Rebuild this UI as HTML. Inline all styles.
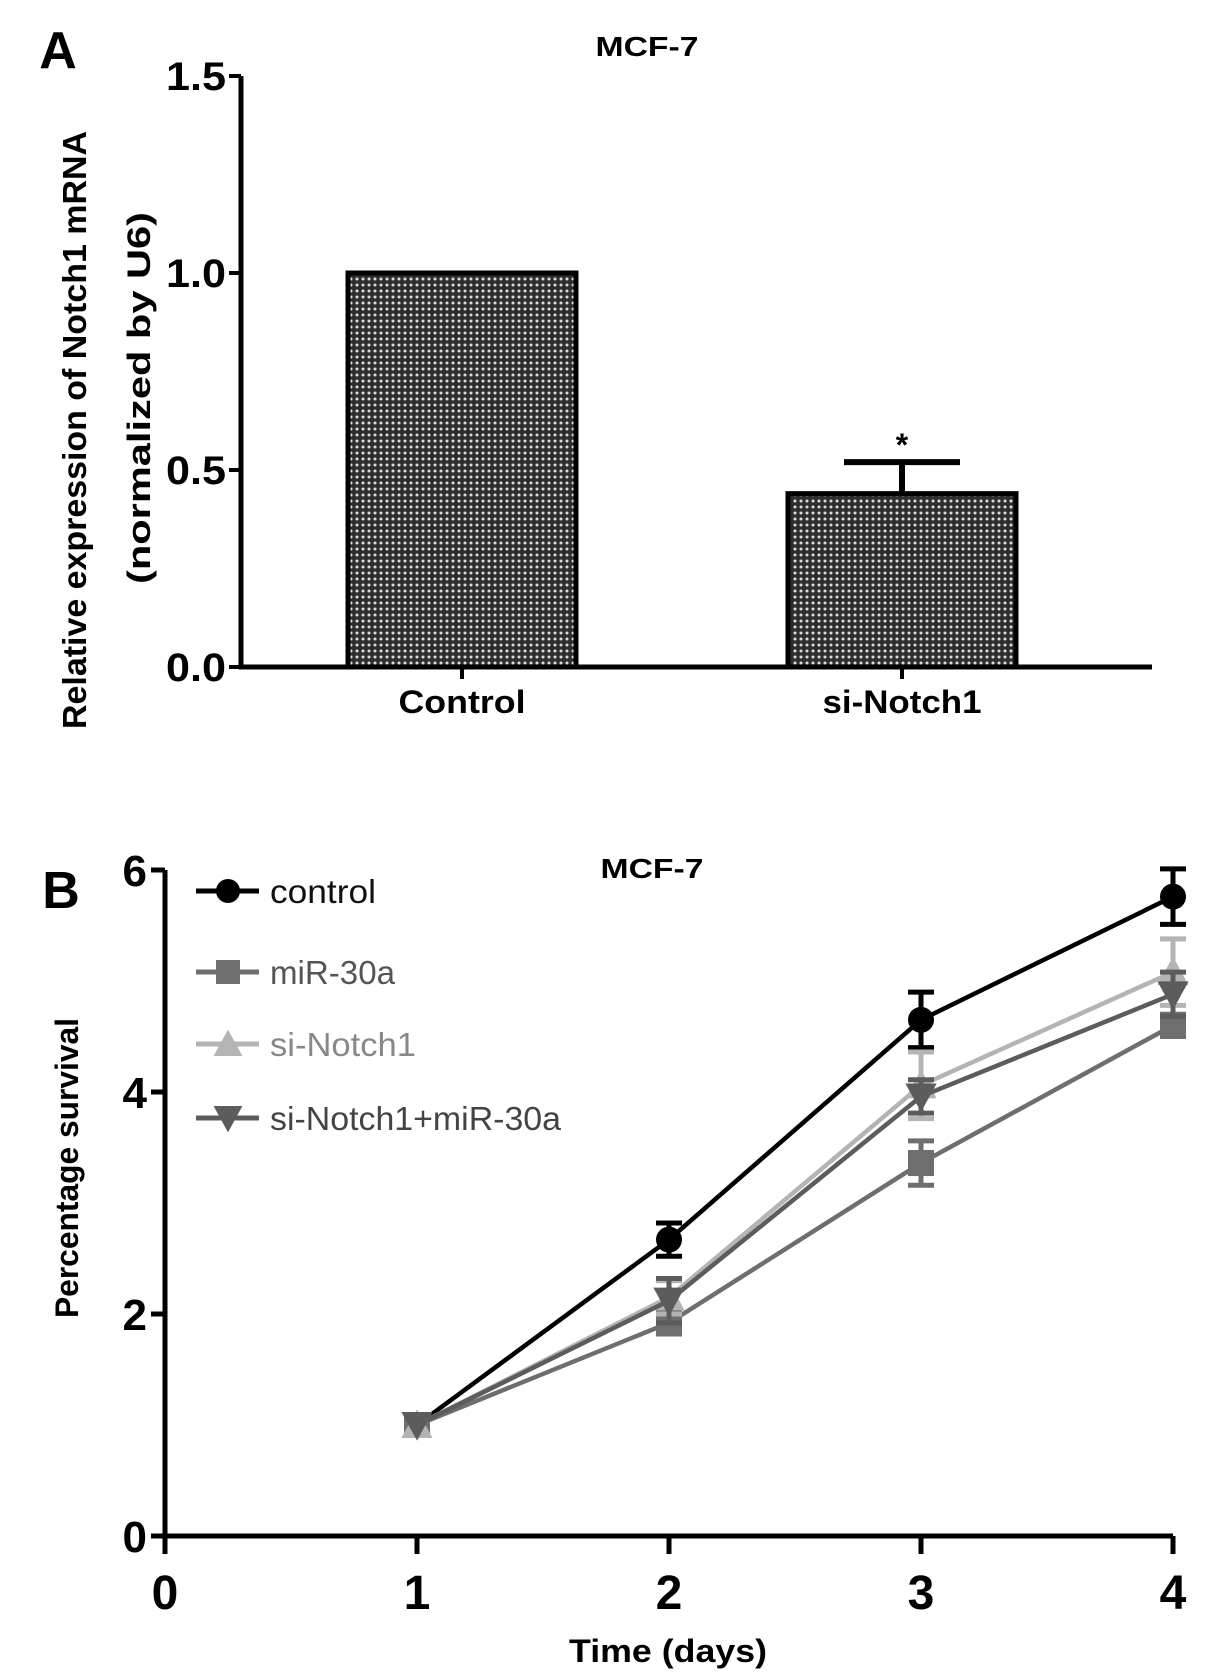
<!DOCTYPE html>
<html><head><meta charset="utf-8"><style>
body{margin:0;background:#fff}
svg{display:block;font-family:"Liberation Sans",Arial,sans-serif}
</style></head><body>
<svg id="fig" width="1205" height="1675" viewBox="0 0 1205 1675">
<defs>
<pattern id="dots" width="6" height="6" patternUnits="userSpaceOnUse">
<rect width="6" height="6" fill="#2e2e2e"/>
<circle cx="3" cy="3" r="1.5" fill="#dcdcdc"/>
</pattern>
</defs>
<g id="pa"></g>
<g id="pb"></g>
</svg>
<script>
// Panel A data
const barCats = ["Control", "si-Notch1"];
const barVals = [1.0, 0.44];
const barErrs = [0, 0.08];
const barSig = ["", "*"];
const aTicks = [0.0, 0.5, 1.0, 1.5];
const aTickLabels = ["0.0", "0.5", "1.0", "1.5"];
// Panel B data
const days = [1, 2, 3, 4];
const seriesNames = ["control", "miR-30a", "si-Notch1", "si-Notch1+miR-30a"];
const ctrlVals = [1, 2.67, 4.65, 5.76];
const ctrlErrs = [0, 0.15, 0.25, 0.25];
const mirVals = [1, 1.92, 3.36, 4.6];
const mirErrs = [0, 0.1, 0.2, 0.1];
const siVals = [1, 2.15, 4.06, 5.08];
const siErrs = [0, 0.15, 0.3, 0.3];
const comboVals = [1, 2.12, 3.96, 4.88];
const comboErrs = [0, 0.2, 0.15, 0.2];
const bXTicks = [0, 1, 2, 3, 4];
const bYTicks = [0, 2, 4, 6];

const NS = "http://www.w3.org/2000/svg";
function mk(parent, tag, attrs, text) {
  const e = document.createElementNS(NS, tag);
  for (const k in attrs) e.setAttribute(k, attrs[k]);
  if (text !== undefined) e.textContent = text;
  parent.appendChild(e);
  return e;
}
const pa = document.getElementById('pa');
const pb = document.getElementById('pb');

// ---------- Panel A ----------
const ay = v => 667 - v * 394;
const ax0 = 241, ax1 = 1152;
const barCenters = i => 462 + i * 440;
const barW = 228;
let t;
t = mk(pa, 'text', {x: 58, y: 68, 'font-size': 52, 'font-weight': 'bold', 'text-anchor': 'middle'}, 'A');


t = mk(pa, 'text', {x: 647, y: 56, 'font-size': 28, 'font-weight': 'bold', 'text-anchor': 'middle', textLength: 103, lengthAdjust: 'spacingAndGlyphs'}, 'MCF-7');


t = mk(pa, 'text', {transform: 'translate(86,430) rotate(-90)', 'font-size': 33, 'font-weight': 'bold', 'text-anchor': 'middle', textLength: 598, lengthAdjust: 'spacingAndGlyphs'}, 'Relative expression of Notch1 mRNA');


t = mk(pa, 'text', {transform: 'translate(150,398) rotate(-90)', 'font-size': 32, 'font-weight': 'bold', 'text-anchor': 'middle', textLength: 372, lengthAdjust: 'spacingAndGlyphs'}, '(normalized by U6)');



const catLen = [127, 159];
barVals.forEach((v, i) => {
  const cx = barCenters(i);
  let r = mk(pa, 'rect', {x: cx - barW / 2, y: ay(v), width: barW, height: ay(0) - ay(v), fill: 'url(#dots)', stroke: '#000', 'stroke-width': 5});
  
  
  if (barErrs[i] > 0) {
    let e = mk(pa, 'path', {d: `M${cx},${ay(v)} V${ay(v + barErrs[i])} M${cx - 58},${ay(v + barErrs[i])} H${cx + 58}`, stroke: '#000', 'stroke-width': 6, fill: 'none'});
    
    
  }
  if (barSig[i]) {
    let s = mk(pa, 'text', {x: cx, y: ay(v + barErrs[i]) - 6, 'font-size': 32, 'font-weight': 'bold', 'text-anchor': 'middle'}, barSig[i]);
    
    
  }
  let tk = mk(pa, 'line', {x1: cx, x2: cx, y1: ay(0), y2: ay(0) + 12, stroke: '#000', 'stroke-width': 4});
  
  
  let lb = mk(pa, 'text', {x: cx, y: 713, 'font-size': 32, 'font-weight': 'bold', 'text-anchor': 'middle', textLength: catLen[i], lengthAdjust: 'spacingAndGlyphs'}, barCats[i]);
  
  
});
let axA = mk(pa, 'path', {d: `M${ax0},${ay(1.5)} V${ay(0)} H${ax1}`, stroke: '#000', 'stroke-width': 5, fill: 'none'});


aTicks.forEach((v, i) => {
  let tk = mk(pa, 'line', {x1: ax0 - 12, x2: ax0, y1: ay(v), y2: ay(v), stroke: '#000', 'stroke-width': 4});
  
  
  let lb = mk(pa, 'text', {x: ax0 - 15, y: ay(v) + 14, 'font-size': 40, 'font-weight': 'bold', 'text-anchor': 'end', textLength: 60, lengthAdjust: 'spacingAndGlyphs'}, aTickLabels[i]);
  
  
});

// ---------- Panel B ----------
const bx = d => 165 + d * 252;
const by = v => 1536 - v * 111;
t = mk(pb, 'text', {x: 61, y: 908, 'font-size': 52, 'font-weight': 'bold', 'text-anchor': 'middle'}, 'B');


t = mk(pb, 'text', {x: 652, y: 878, 'font-size': 28, 'font-weight': 'bold', 'text-anchor': 'middle', textLength: 103, lengthAdjust: 'spacingAndGlyphs'}, 'MCF-7');


t = mk(pb, 'text', {transform: 'translate(78,1168) rotate(-90)', 'font-size': 32, 'font-weight': 'bold', 'text-anchor': 'middle', textLength: 300, lengthAdjust: 'spacingAndGlyphs'}, 'Percentage survival');


t = mk(pb, 'text', {x: 668, y: 1662, 'font-size': 32, 'font-weight': 'bold', 'text-anchor': 'middle', textLength: 198, lengthAdjust: 'spacingAndGlyphs'}, 'Time (days)');



let axB = mk(pb, 'path', {d: `M${bx(0)},${by(6)} V${by(0)} H${bx(4)}`, stroke: '#000', 'stroke-width': 5, fill: 'none'});


bXTicks.forEach(d => {
  let tk = mk(pb, 'line', {x1: bx(d), x2: bx(d), y1: by(0), y2: by(0) + 18, stroke: '#000', 'stroke-width': 5});
  
  
  let lb = mk(pb, 'text', {x: bx(d), y: 1609, 'font-size': 48, 'font-weight': 'bold', 'text-anchor': 'middle'}, String(d));
  
  
});
bYTicks.forEach(v => {
  let tk = mk(pb, 'line', {x1: bx(0) - 14, x2: bx(0), y1: by(v), y2: by(v), stroke: '#000', 'stroke-width': 5});
  
  
  let lb = mk(pb, 'text', {x: bx(0) - 18, y: by(v) + 16, 'font-size': 44, 'font-weight': 'bold', 'text-anchor': 'end'}, String(v));
  
  
});

const series = [
  {vals: ctrlVals, errs: ctrlErrs, color: '#000', text: '#111', marker: 'circle'},
  {vals: mirVals, errs: mirErrs, color: '#6e6e6e', text: '#555', marker: 'square'},
  {vals: siVals, errs: siErrs, color: '#b4b4b4', text: '#888', marker: 'tri-up'},
  {vals: comboVals, errs: comboErrs, color: '#5c5c5c', text: '#444', marker: 'tri-down'}
];
function marker(g, type, x, y, c, s) {
  let m;
  if (type === 'circle') m = mk(g, 'circle', {cx: x, cy: y, r: s, fill: c});
  else if (type === 'square') m = mk(g, 'rect', {x: x - s, y: y - s, width: 2 * s, height: 2 * s, fill: c});
  else if (type === 'tri-up') m = mk(g, 'polygon', {points: `${x},${y - s * 1.2} ${x - s * 1.2},${y + s} ${x + s * 1.2},${y + s}`, fill: c});
  else m = mk(g, 'polygon', {points: `${x},${y + s * 1.2} ${x - s * 1.2},${y - s} ${x + s * 1.2},${y - s}`, fill: c});
  return m;
}
const drawOrder = [0, 1, 2, 3];
drawOrder.forEach(si => {
  const s = series[si];
  const g = mk(pb, 'g', {});
  
  
  const pts = days.map((d, i) => `${bx(d)},${by(s.vals[i])}`).join(' ');
  let ln = mk(g, 'polyline', {points: pts, fill: 'none', stroke: s.color, 'stroke-width': 4.5});
  
  
  days.forEach((d, i) => {
    const x = bx(d), v = s.vals[i], e = s.errs[i];
    if (e > 0) {
      let eb = mk(g, 'path', {d: `M${x},${by(v + e)} V${by(v - e)} M${x - 13},${by(v + e)} H${x + 13} M${x - 13},${by(v - e)} H${x + 13}`, stroke: s.color, 'stroke-width': 5, fill: 'none'});
      
      
    }
    let m = marker(g, s.marker, x, by(v), s.color, 13);
    
    
  });
});

// Legend
const legY = [891, 972, 1044, 1118];
const legLen = [106, 125, 146, 291];
const lg = mk(pb, 'g', {});


series.forEach((s, i) => {
  const eg = mk(lg, 'g', {});
  
  
  mk(eg, 'line', {x1: 196, x2: 259, y1: legY[i], y2: legY[i], stroke: s.color, 'stroke-width': 5});
  marker(eg, s.marker, 228, legY[i], s.color, 12);
  mk(eg, 'text', {x: 270, y: legY[i] + 12, 'font-size': 33, fill: s.text, textLength: legLen[i], lengthAdjust: 'spacingAndGlyphs'}, seriesNames[i]);
});
</script>
</body></html>
